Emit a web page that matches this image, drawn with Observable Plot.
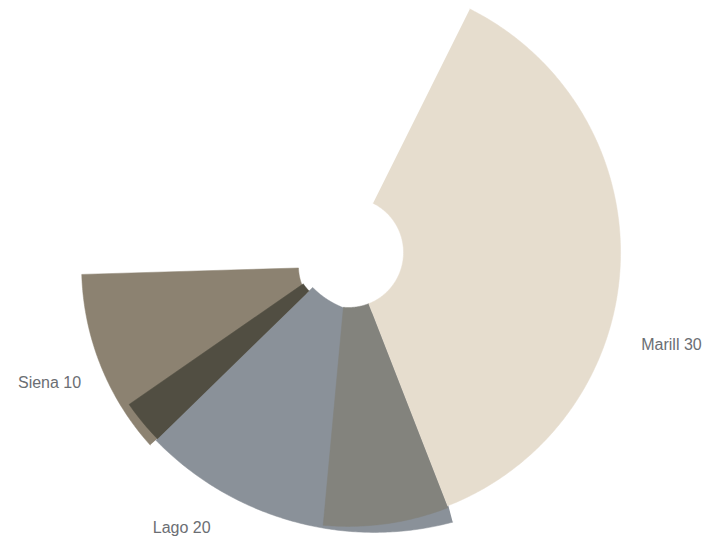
<!DOCTYPE html>
<html>
<head>
<meta charset="utf-8">
<script src="https://cdn.jsdelivr.net/npm/d3@7"></script>
<script src="https://cdn.jsdelivr.net/npm/@observablehq/plot@0.6"></script>
<style>
  html, body { margin: 0; padding: 0; background: #ffffff; }
  #chart svg { display: block; }
</style>
</head>
<body>
<div id="chart"></div>
<script>
// ---- Data ----
const categories = ["Marill", "Grigio", "Lago", "Ombra", "Siena"];
const labelValues = [30, null, 20, null, 10];
// angular extent of each wedge, degrees clockwise from 12 o'clock
const angleFrom = [26.5, 158.7, 165.1, 225.7, 228];
const angleTo   = [158.7, 185.3, 225.75, 235.3, 268.3];
// reach of each wedge, percent of the longest
const reach = [89.2, 89.8, 100, 87.5, 87.5];
// drawing order (later wedges cover earlier ones)
const layerOrder = ["Siena", "Lago", "Marill", "Grigio", "Ombra"];

// ---- Styles / layout ----
const colors = {
  Marill: "#e6ddce",
  Grigio: "#83837d",
  Lago: "#8a9199",
  Ombra: "#514e42",
  Siena: "#8c8271"
};
// displacement of a wedge's own centre from the common centre (pixels, y up)
const shift = {
  Marill: [0, 0], Grigio: [0, 0], Lago: [25.8, 25.1], Ombra: [0, 0], Siena: [0, -14]
};
const holeRadius = {Marill: 55, Grigio: 55, Lago: 86, Ombra: 55, Siena: 50};
const labelLayout = {
  Marill: {angle: 106, dist: 336},
  Lago:   {angle: 211.2, dist: 322},
  Siena:  {angle: 246.5, dist: 326}
};
const rScale = d3.scaleLinear().domain([0, 100]).range([0, 305]);

const rad = (deg) => deg * Math.PI / 180;
const polar = (deg, r) => ({x: r * Math.sin(rad(deg)), y: r * Math.cos(rad(deg))});

function wedge(i) {
  const c = categories[i];
  const a0 = angleFrom[i], a1 = angleTo[i];
  const ro = rScale(reach[i]), ri = holeRadius[c];
  const [sx, sy] = shift[c];
  const n = Math.max(2, Math.ceil((a1 - a0) / 0.5));
  const pts = [];
  const push = (a, r) => { const p = polar(a, r); pts.push({cat: c, x: p.x + sx, y: p.y + sy}); };
  for (let k = 0; k <= n; k++) push(a0 + (a1 - a0) * k / n, ro);
  for (let k = n; k >= 0; k--) push(a0 + (a1 - a0) * k / n, ri);
  return pts;
}

const marks = layerOrder.map((c) => {
  const i = categories.indexOf(c);
  return Plot.line(wedge(i), {x: "x", y: "y", fill: colors[c], stroke: colors[c], strokeWidth: 0.5, curve: "linear"});
});

const labels = categories
  .map((c, i) => ({c, v: labelValues[i]}))
  .filter((d) => d.v != null)
  .map((d) => {
    const p = polar(labelLayout[d.c].angle, labelLayout[d.c].dist);
    return {text: `${d.c} ${d.v}`, x: p.x, y: p.y};
  });

marks.push(Plot.text(labels, {
  x: "x", y: "y", text: "text",
  fill: "#6b6e73",
  fontSize: 16,
  textAnchor: "middle",
  fontFamily: "Liberation Sans, Arial, sans-serif",
  style: "letter-spacing:-0.6px"
}));

const chart = Plot.plot({
  width: 706,
  height: 540,
  margin: 0,
  x: {domain: [-348, 358], axis: null},
  y: {domain: [-288, 252], axis: null},
  style: {background: "#ffffff", overflow: "visible"},
  marks
});
document.getElementById("chart").appendChild(chart);
</script>
</body>
</html>
